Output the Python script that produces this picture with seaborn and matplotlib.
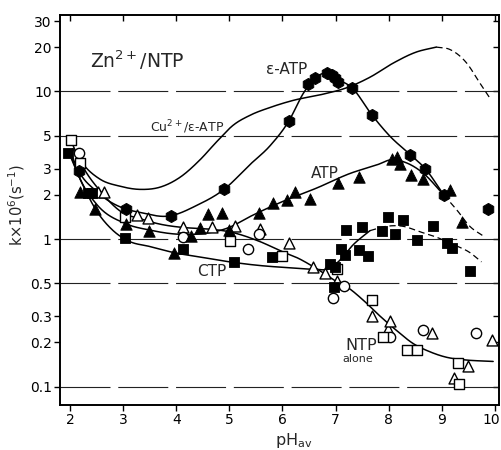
import numpy as np
import pandas as pd
import matplotlib
matplotlib.use("Agg")
import matplotlib.pyplot as plt
import matplotlib.transforms as mtransforms
import seaborn as sns

# ---- measured rate constants k (x 10^6 s^-1) versus pH ----
eatp_ph = [2.16, 3.05, 3.91, 4.90, 6.12, 6.48, 6.61, 6.84, 6.93, 6.99, 7.05, 7.31,
           7.69, 8.40, 8.69, 9.04, 9.88]
eatp_k = [2.90, 1.60, 1.44, 2.17, 6.3, 11.2, 12.3, 13.3, 12.9, 12.3, 11.6, 10.6,
          6.9, 3.7, 3.0, 1.99, 1.61]

atp_ph = [2.19, 2.47, 3.05, 3.49, 3.95, 4.27, 4.45, 4.60, 4.87, 4.99, 5.55, 5.83,
          6.08, 6.24, 6.52, 7.05, 7.45, 8.06, 8.16, 8.21, 8.42, 8.65, 9.16, 9.39]
atp_k = [2.07, 1.60, 1.26, 1.14, 0.80, 1.05, 1.19, 1.48, 1.51, 1.16, 1.49, 1.76,
         1.84, 2.09, 1.86, 2.40, 2.64, 3.47, 3.58, 3.22, 2.70, 2.54, 2.14, 1.31]

ctp_ph = [1.97, 2.34, 2.41, 3.04, 4.13, 5.09, 5.80, 6.90, 6.99, 6.97, 7.10, 7.18,
          7.20, 7.45, 7.49, 7.62, 7.87, 7.98, 8.12, 8.27, 8.54, 8.83, 9.10, 9.19, 9.53]
ctp_k = [3.8, 2.06, 2.06, 1.01, 0.85, 0.70, 0.76, 0.68, 0.65, 0.475, 0.85, 0.78,
         1.15, 0.84, 1.20, 0.77, 1.14, 1.42, 1.08, 1.34, 0.99, 1.22, 0.94, 0.87, 0.61]

# NTP alone (open symbols, three nucleotides)
ntp_tri_ph = [2.53, 2.63, 3.26, 3.47, 4.13, 4.67, 5.11, 5.58, 6.13, 6.58, 6.80, 7.03,
              7.68, 7.98, 8.03, 8.81, 9.23, 9.50, 9.94]
ntp_tri_k = [2.09, 2.09, 1.45, 1.38, 1.21, 1.21, 1.22, 1.17, 0.94, 0.65, 0.59, 0.52,
             0.30, 0.245, 0.28, 0.23, 0.115, 0.137, 0.206]
ntp_circ_ph = [2.16, 4.13, 5.36, 5.55, 6.96, 7.16, 8.03, 8.65, 9.64]
ntp_circ_k = [3.8, 1.04, 0.86, 1.08, 0.40, 0.48, 0.216, 0.24, 0.23]
ntp_sq_ph = [2.02, 2.19, 3.04, 5.01, 6.00, 7.02, 7.68, 7.90, 8.34, 8.54, 9.31, 9.33]
ntp_sq_k = [4.7, 3.26, 1.42, 0.97, 0.77, 0.63, 0.386, 0.218, 0.176, 0.176, 0.144, 0.104]

# ---- hand-drawn trend curves (knots) ----
cu_ph = [2.05, 2.25, 2.56, 2.94, 3.32, 3.70, 4.07, 4.45, 4.77, 5.07, 5.39, 5.77,
         6.20, 6.77, 7.21, 7.65, 8.09, 8.52, 8.90]
cu_k = [4.1, 3.2, 2.55, 2.28, 2.17, 2.25, 2.62, 3.45, 4.6, 5.9, 6.9, 7.8,
        8.7, 9.6, 10.6, 12.5, 15.6, 18.5, 20.0]
cu_ext_ph = [8.90, 9.15, 9.47, 9.72, 9.91]
cu_ext_k = [20.0, 19.3, 15.6, 11.4, 9.0]

eatp_fit_ph = [2.00, 2.16, 2.50, 3.04, 3.30, 3.85, 4.40, 4.90, 5.39, 5.77, 6.12,
               6.40, 6.60, 6.84, 7.02, 7.31, 7.69, 8.02, 8.42, 8.69, 9.04]
eatp_fit_k = [3.9, 2.9, 2.1, 1.6, 1.52, 1.43, 1.7, 2.17, 3.2, 4.3, 6.3,
              9.8, 12.2, 13.3, 12.2, 10.6, 6.9, 5.0, 3.7, 3.0, 1.99]

atp_fit_ph = [2.00, 2.20, 2.50, 3.05, 3.50, 4.00, 4.40, 5.00, 5.39, 6.01, 6.65,
              7.27, 7.80, 8.05, 8.34, 8.65, 9.04]
atp_fit_k = [3.8, 2.5, 1.72, 1.27, 1.15, 1.08, 1.08, 1.2, 1.42, 1.8, 2.22,
             2.78, 3.2, 3.45, 3.28, 2.8, 1.99]
atp_ext_ph = [9.04, 9.30, 9.53, 9.78]
atp_ext_k = [1.99, 1.55, 1.22, 1.05]

ctp_fit_ph = [1.97, 2.20, 2.50, 2.80, 3.10, 3.50, 3.95, 4.50, 5.01, 5.60, 6.10,
              6.58, 6.90, 7.05, 7.34, 7.65]
ctp_fit_k = [3.9, 2.5, 1.55, 1.15, 0.97, 0.89, 0.81, 0.75, 0.70, 0.66, 0.64,
             0.625, 0.635, 0.70, 0.92, 1.14]
ctp_ext_ph = [7.65, 7.96, 8.27, 8.59, 8.90, 9.21, 9.53, 9.75]
ctp_ext_k = [1.14, 1.22, 1.22, 1.12, 1.03, 0.92, 0.81, 0.70]

ntp_fit_ph = [2.00, 2.20, 2.60, 3.00, 3.30, 3.70, 4.10, 4.60, 5.00, 5.58, 6.00,
              6.30, 6.58, 6.80, 7.00, 7.21, 7.52, 7.84, 8.15, 8.46, 8.78, 9.09,
              9.41, 9.97]
ntp_fit_k = [4.8, 3.3, 2.05, 1.5, 1.38, 1.26, 1.2, 1.17, 1.12, 0.96, 0.82,
             0.74, 0.65, 0.58, 0.52, 0.475, 0.386, 0.30, 0.24, 0.196, 0.172, 0.158,
             0.152, 0.148]

y_ticks = [0.1, 0.2, 0.3, 0.5, 1, 2, 3, 5, 10, 20, 30]
y_ticklabels = ["0.1", "0.2", "0.3", "0.5", "1", "2", "3", "5", "10", "20", "30"]
x_ticks = [2, 3, 4, 5, 6, 7, 8, 9, 10]
grid_levels = [0.1, 0.5, 1, 5, 10]


def smooth(xs, ys, n=40):
    """Cubic Hermite curve through knots, in log10(k)."""
    x = np.asarray(xs, float)
    y = np.log10(np.asarray(ys, float))
    m = np.gradient(y, x)
    px, py = [], []
    for i in range(len(x) - 1):
        h = x[i + 1] - x[i]
        t = np.linspace(0, 1, n, endpoint=False)
        h00 = 2 * t**3 - 3 * t**2 + 1
        h10 = t**3 - 2 * t**2 + t
        h01 = -2 * t**3 + 3 * t**2
        h11 = t**3 - t**2
        px.append(x[i] + t * h)
        py.append(h00 * y[i] + h10 * h * m[i] + h01 * y[i + 1] + h11 * h * m[i + 1])
    px.append([x[-1]])
    py.append([y[-1]])
    return pd.DataFrame({"pH": np.concatenate(px), "k": 10 ** np.concatenate(py)})


sns.set_theme(style="white")
plt.rcParams["font.family"] = ["DejaVu Sans"]
plt.rcParams["mathtext.fontset"] = "dejavusans"

fig = plt.figure(figsize=(5.01, 4.5), dpi=100)
ax = fig.add_axes([60 / 501, 1 - 405 / 450, 439 / 501, 390 / 450])
ax.set_yscale("log")

for lvl in grid_levels:
    ax.axhline(lvl, color="#222222", lw=0.8, dashes=(45, 7), zorder=1)

for xs, ys in [(cu_ph, cu_k), (eatp_fit_ph, eatp_fit_k), (atp_fit_ph, atp_fit_k),
               (ctp_fit_ph, ctp_fit_k), (ntp_fit_ph, ntp_fit_k)]:
    d = smooth(xs, ys)
    sns.lineplot(data=d, x="pH", y="k", color="black", lw=1.1, sort=False,
                 estimator=None, ax=ax, zorder=2)
for xs, ys in [(cu_ext_ph, cu_ext_k), (atp_ext_ph, atp_ext_k), (ctp_ext_ph, ctp_ext_k)]:
    d = smooth(xs, ys)
    sns.lineplot(data=d, x="pH", y="k", color="black", lw=0.9, sort=False,
                 estimator=None, ax=ax, zorder=2)
    ax.lines[-1].set_dashes((5, 3))

filled = dict(color="black", edgecolor="black", linewidth=0.6, ax=ax, zorder=4,
              legend=False)
hollow = dict(color="white", edgecolor="black", linewidth=1.0, ax=ax, zorder=3,
              legend=False)

sns.scatterplot(x=ntp_tri_ph, y=ntp_tri_k, marker="^", s=62, **hollow)
sns.scatterplot(x=ntp_circ_ph, y=ntp_circ_k, marker="o", s=55, **hollow)
sns.scatterplot(x=ntp_sq_ph, y=ntp_sq_k, marker="s", s=50, **hollow)
sns.scatterplot(x=ctp_ph, y=ctp_k, marker="s", s=55, **filled)
sns.scatterplot(x=atp_ph, y=atp_k, marker="^", s=68, **filled)
sns.scatterplot(x=eatp_ph, y=eatp_k, marker="h", s=78, **filled)

ax.set_xlim(1.81, 10.08)
ax.set_ylim(0.075, 33)
ax.set_xticks(x_ticks)
ax.set_xticklabels([str(v) for v in x_ticks])
ax.set_yticks(y_ticks)
ax.set_yticklabels(y_ticklabels)
ax.minorticks_off()
ax.set_xlabel("")
ax.set_ylabel("")

for s in ax.spines.values():
    s.set_visible(True)
    s.set_color("black")
    s.set_linewidth(1.4)
ax.tick_params(axis="both", which="major", direction="out", length=4, width=1,
               color="black", labelsize=10, labelcolor="black", pad=2)
ax.tick_params(top=True, right=True, bottom=True, left=True,
               labeltop=False, labelright=False)
for t in ax.xaxis.get_major_ticks():
    t.tick2line.set_marker(matplotlib.lines.TICKDOWN)
for t in ax.yaxis.get_major_ticks():
    t.tick2line.set_marker(matplotlib.lines.TICKLEFT)

# keep the last pH label inside the canvas
last = ax.get_xticklabels()[-1]
last.set_transform(last.get_transform() +
                   mtransforms.ScaledTranslation(-4 / 100, 0, fig.dpi_scale_trans))

ax.text(3.26, 16.4, "Zn$^{2+}$/NTP", fontsize=13.5, ha="center", va="center")
ax.text(4.20, 5.75, "Cu$^{2+}$/ε-ATP", fontsize=9, ha="center", va="center")
ax.text(6.07, 14.0, "ε-ATP", fontsize=11, ha="center", va="center")
ax.text(6.80, 2.8, "ATP", fontsize=11, ha="center", va="center")
ax.text(4.67, 0.607, "CTP", fontsize=11, ha="center", va="center")
ax.text(7.48, 0.191, "NTP", fontsize=11.5, ha="center", va="center")
ax.text(7.42, 0.1536, "alone", fontsize=8, ha="center", va="center")

fig.text(294 / 501, 1 - 440 / 450, "pH$_{\\mathrm{av}}$", fontsize=11.5,
         ha="center", va="center")
fig.text(17 / 501, 1 - 205 / 450, "k×10$^{6}$(s$^{-1}$)", fontsize=10.5,
         rotation=90, ha="center", va="center")

fig.savefig("out.png", dpi=100, facecolor="white")
